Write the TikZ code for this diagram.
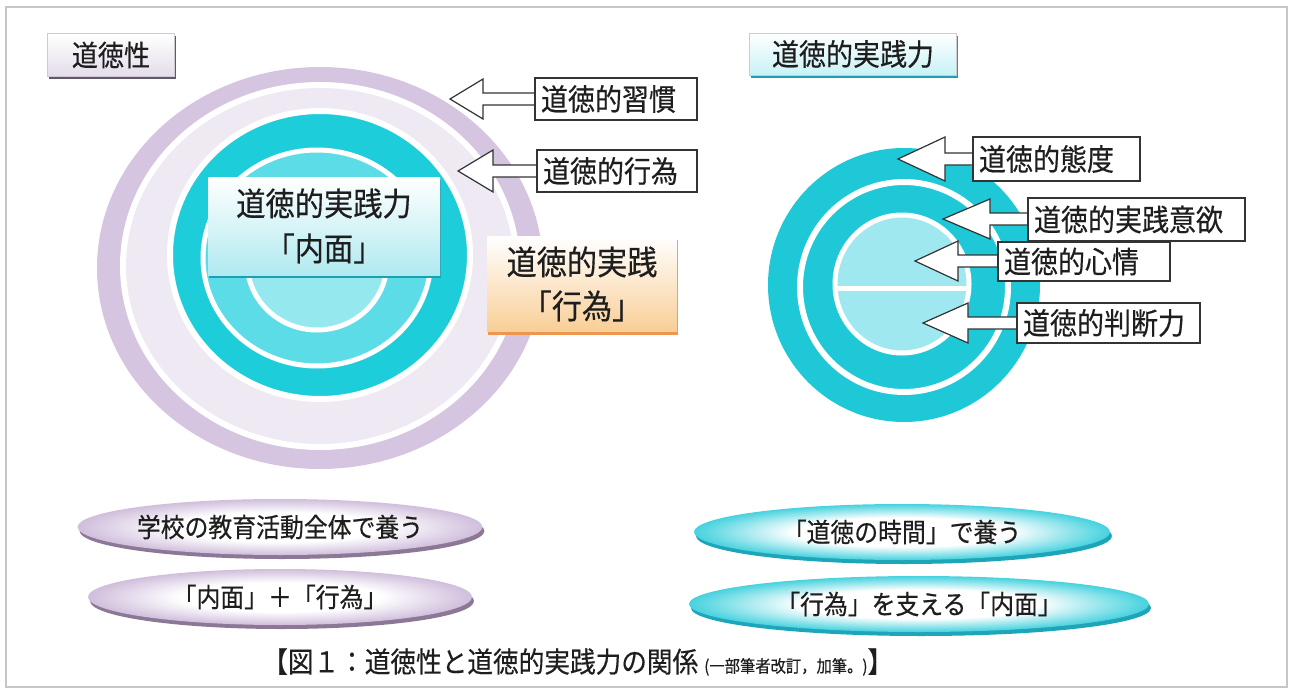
\documentclass[tikz,border=0pt]{standalone}
\usepackage{fontspec}
\setmainfont{Noto Sans CJK JP}[FakeStretch=0.9,FakeBold=0.4]
\usetikzlibrary{shapes.geometric,shadows}
\definecolor{purpleR}{RGB}{214,197,225}
\definecolor{lavR}{RGB}{238,233,243}
\definecolor{tealL}{RGB}{30,205,218}
\definecolor{medL}{RGB}{92,220,230}
\definecolor{lightL}{RGB}{150,232,239}
\definecolor{tealR}{RGB}{30,200,215}
\definecolor{lightR}{RGB}{160,232,240}
\definecolor{lavbox}{RGB}{228,220,234}
\definecolor{lavsh}{RGB}{100,85,110}
\definecolor{cyanbox}{RGB}{200,242,246}
\definecolor{tealsh}{RGB}{30,160,178}
\definecolor{naimenbot}{RGB}{176,234,240}
\definecolor{koibot}{RGB}{249,206,150}
\definecolor{koish}{RGB}{238,150,80}
\definecolor{pillLc}{RGB}{208,190,220}
\definecolor{pillLsh}{RGB}{140,120,150}
\definecolor{pillRc}{RGB}{70,210,222}
\definecolor{pillRsh}{RGB}{30,165,185}
\definecolor{ink}{RGB}{30,30,30}
\pgfdeclareradialshading{pillLshade}{\pgfpoint{0bp}{0bp}}{color(0bp)=(white); color(13bp)=(white); color(25bp)=(pillLc); color(50bp)=(pillLc)}
\pgfdeclareradialshading{pillRshade}{\pgfpoint{0bp}{0bp}}{color(0bp)=(white); color(13bp)=(white); color(25bp)=(pillRc); color(50bp)=(pillRc)}
\begin{document}
\begin{tikzpicture}[x=1pt,y=-1pt,
  every node/.style={text=ink},
  whiteline/.style={draw=white, line width=6},
  arrowshape/.style={fill=white, draw=black!80, line width=1.2, line join=miter},
  abox/.style={fill=white, draw=black!80, line width=1.2, inner xsep=6, inner ysep=0,
    align=left, font=\fontsize{30}{32}\selectfont},
  lblbox/.style={draw=gray!40, line width=0.6, inner sep=0, font=\fontsize{29}{31}\selectfont},
  bigbox/.style={inner sep=0, align=center},
  pill/.style={ellipse, inner sep=0, font=\fontsize{26.5}{28}\selectfont},
  pillL/.style={pill, shading=pillLshade, drop shadow={shadow xshift=2pt, shadow yshift=-4pt, fill=pillLsh, opacity=1}},
  pillR/.style={pill, shading=pillRshade, drop shadow={shadow xshift=2pt, shadow yshift=-4pt, fill=pillRsh, opacity=1}}
]
\useasboundingbox (0,0) rectangle (1293,693);
\fill[white] (0,0) rectangle (1293,693);
\draw[gray!45, line width=1.5] (6,7) rectangle (1287,687);

% ---------- left diagram ----------
\fill[purpleR] (320,268) ellipse [x radius=223, y radius=201];
\filldraw[fill=lavR, whiteline] (320,266) ellipse [x radius=197, y radius=181];
\filldraw[fill=tealL, whiteline] (320,255) ellipse [x radius=150, y radius=144];
\filldraw[fill=medL, whiteline, line width=5] (317,258) ellipse [x radius=114, y radius=108];
\filldraw[fill=lightL, whiteline, line width=5] (317,262) ellipse [x radius=70, y radius=68];

\node[lblbox, top color=white, bottom color=lavbox,
  drop shadow={shadow xshift=1pt, shadow yshift=-3pt, fill=lavsh, opacity=1},
  minimum width=127, minimum height=43] (dotokusei) at (111,55) {道徳性};

\node[bigbox, top color=white, bottom color=naimenbot,
  drop shadow={shadow xshift=1pt, shadow yshift=-3pt, fill=tealsh, opacity=1},
  minimum width=232, minimum height=98, font=\fontsize{32.5}{45}\selectfont]
  (naimen) at (324,226) {道徳的実践力\\「内面」};

\node[bigbox, top color=white, bottom color=koibot,
  drop shadow={shadow xshift=1pt, shadow yshift=-3pt, fill=koish, opacity=1},
  minimum width=190, minimum height=95, font=\fontsize{33.5}{44}\selectfont]
  (koi) at (582,284) {道徳的実践\\「行為」};

% arrows left
\coordinate (tA1) at (450,99);
\draw[arrowshape] (tA1) -- (483,79) -- (483,93) -- (537,93) -- (537,105) -- (483,105) -- (483,119) -- cycle;
\node[abox, text width=150, minimum height=42] (shukan) at (616,99) {道徳的習慣};
\coordinate (tA2) at (458,171);
\draw[arrowshape] (tA2) -- (493,150) -- (493,165) -- (539,165) -- (539,177) -- (493,177) -- (493,192) -- cycle;
\node[abox, text width=148, minimum height=42] (koui) at (617,171) {道徳的行為};

% ---------- right diagram ----------
\node[lblbox, top color=white, bottom color=cyanbox,
  drop shadow={shadow xshift=1pt, shadow yshift=-3pt, fill=tealsh, opacity=1},
  minimum width=207, minimum height=42, font=\fontsize{30}{32}\selectfont]
  (jissenryoku) at (853,54) {道徳的実践力};

\fill[tealR] (904,285) ellipse [x radius=136, y radius=137];
\draw[whiteline] (904,287) ellipse [x radius=104, y radius=105];
\filldraw[fill=lightR, whiteline, line width=5] (902,284) ellipse [x radius=67, y radius=69];
\draw[white, line width=5] (835,288) -- (969,288);

\coordinate (tR1) at (898,159);
\draw[arrowshape] (tR1) -- (945,137) -- (945,153) -- (975,153) -- (975,165) -- (945,165) -- (945,181) -- cycle;
\node[abox, text width=155, minimum height=44] (taido) at (1056.5,159) {道徳的態度};
\coordinate (tR2) at (943,219);
\draw[arrowshape] (tR2) -- (990,199) -- (990,213) -- (1030,213) -- (1030,225) -- (990,225) -- (990,239) -- cycle;
\node[abox, text width=205, minimum height=43] (iyoku) at (1136.5,219.5) {道徳的実践意欲};
\coordinate (tR3) at (915,261);
\draw[arrowshape] (tR3) -- (958,241) -- (958,255) -- (1000,255) -- (1000,267) -- (958,267) -- (958,281) -- cycle;
\node[abox, text width=160, minimum height=39] (shinjo) at (1084,261.5) {道徳的心情};
\coordinate (tR4) at (923,323);
\draw[arrowshape] (tR4) -- (968,303) -- (968,317) -- (1019,317) -- (1019,329) -- (968,329) -- (968,343) -- cycle;
\node[abox, text width=171, minimum height=40] (handan) at (1108.5,323) {道徳的判断力};

% ---------- pills ----------
\node[pillL, minimum width=384, minimum height=56] (p1) at (280,527) {学校の教育活動全体で養う};
\node[pillL, minimum width=384, minimum height=56] (p2) at (280,597) {「内面」＋「行為」};
\node[pillR, minimum width=416, minimum height=56] (p3) at (902,532) {「道徳の時間」で養う};
\node[pillR, minimum width=460, minimum height=56] (p4) at (919,604) {「行為」を支える「内面」};

% ---------- caption ----------
\node[anchor=west, inner sep=0, font=\fontsize{28.5}{30}\selectfont] (caption) at (262,662)
  {【図１：道徳性と道徳的実践力の関係\hspace{6pt}{\fontsize{17}{18}\selectfont (一部筆者改訂，加筆。)}】};
\end{tikzpicture}
\end{document}
